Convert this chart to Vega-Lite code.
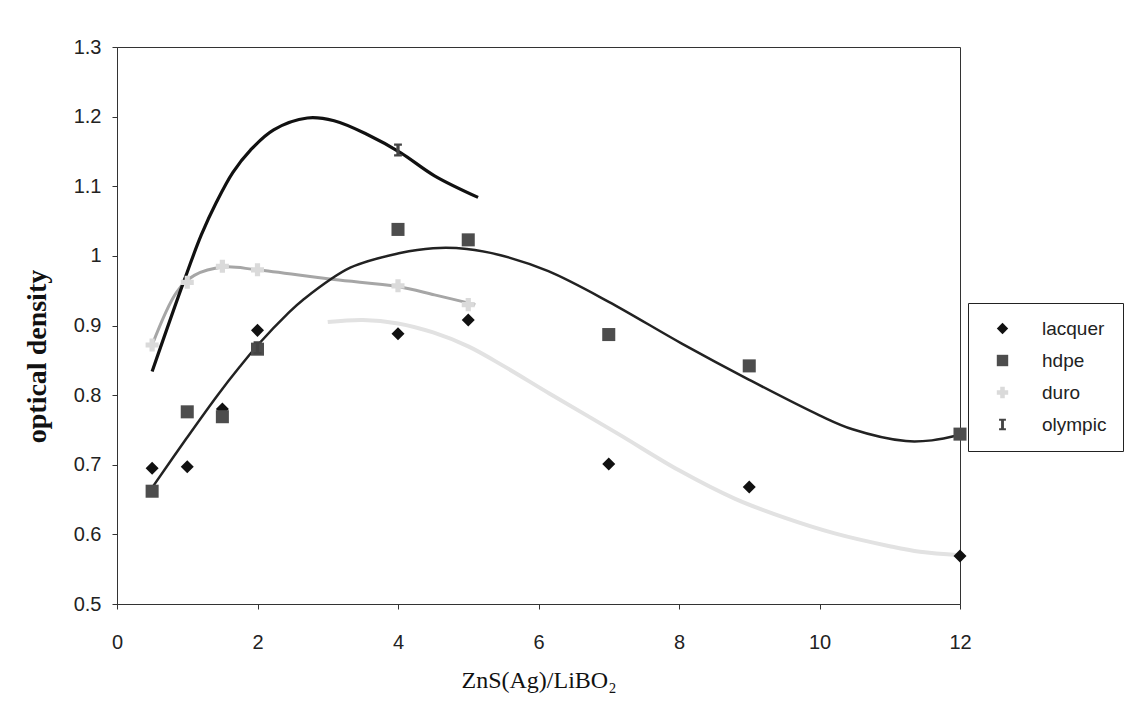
{
  "$schema": "https://vega.github.io/schema/vega-lite/v6.json",
  "autosize": {"type": "none"},
  "width": 843,
  "height": 557,
  "padding": {"left": 117, "top": 47, "right": 170, "bottom": 120},
  "background": "white",
  "config": {
    "view": {"stroke": "#333", "strokeWidth": 1},
    "axis": {
      "grid": false,
      "domainColor": "#333",
      "tickColor": "#333",
      "labelFont": "Liberation Sans",
      "labelFontSize": 20,
      "labelColor": "#222",
      "titleFont": "Liberation Serif",
      "titleColor": "#111"
    },
    "legend": {
      "labelFont": "Liberation Sans",
      "labelFontSize": 19,
      "labelColor": "#222"
    }
  },
  "datasets": {
    "pts": [
      {"series": "lacquer", "x": 0.5, "y": 0.695},
      {"series": "lacquer", "x": 1, "y": 0.697},
      {"series": "lacquer", "x": 1.5, "y": 0.78},
      {"series": "lacquer", "x": 2, "y": 0.893},
      {"series": "lacquer", "x": 4, "y": 0.888},
      {"series": "lacquer", "x": 5, "y": 0.908},
      {"series": "lacquer", "x": 7, "y": 0.701},
      {"series": "lacquer", "x": 9, "y": 0.668},
      {"series": "lacquer", "x": 12, "y": 0.569},
      {"series": "hdpe", "x": 0.5, "y": 0.662},
      {"series": "hdpe", "x": 1, "y": 0.776},
      {"series": "hdpe", "x": 1.5, "y": 0.769},
      {"series": "hdpe", "x": 2, "y": 0.866},
      {"series": "hdpe", "x": 4, "y": 1.038},
      {"series": "hdpe", "x": 5, "y": 1.023},
      {"series": "hdpe", "x": 7, "y": 0.887},
      {"series": "hdpe", "x": 9, "y": 0.842},
      {"series": "hdpe", "x": 12, "y": 0.744},
      {"series": "duro", "x": 0.5, "y": 0.872},
      {"series": "duro", "x": 1, "y": 0.962},
      {"series": "duro", "x": 1.5, "y": 0.985},
      {"series": "duro", "x": 2, "y": 0.98},
      {"series": "duro", "x": 4, "y": 0.957},
      {"series": "duro", "x": 5, "y": 0.93},
      {"series": "olympic", "x": 2, "y": 0.868},
      {"series": "olympic", "x": 4, "y": 1.152}
    ],
    "trend": [
      {"series": "olympic", "x": 0.5, "y": 0.834},
      {"series": "olympic", "x": 0.95, "y": 0.963},
      {"series": "olympic", "x": 1.2, "y": 1.03},
      {"series": "olympic", "x": 1.42, "y": 1.078},
      {"series": "olympic", "x": 1.65, "y": 1.12},
      {"series": "olympic", "x": 1.9, "y": 1.152},
      {"series": "olympic", "x": 2.23, "y": 1.181},
      {"series": "olympic", "x": 2.71, "y": 1.198},
      {"series": "olympic", "x": 3.09, "y": 1.194},
      {"series": "olympic", "x": 3.57, "y": 1.174},
      {"series": "olympic", "x": 4.04, "y": 1.148},
      {"series": "olympic", "x": 4.52, "y": 1.115},
      {"series": "olympic", "x": 5.14, "y": 1.084},
      {"series": "duro", "x": 0.5, "y": 0.872},
      {"series": "duro", "x": 0.85, "y": 0.948},
      {"series": "duro", "x": 1.1, "y": 0.972},
      {"series": "duro", "x": 1.52, "y": 0.984},
      {"series": "duro", "x": 1.99, "y": 0.98},
      {"series": "duro", "x": 3.09, "y": 0.966},
      {"series": "duro", "x": 3.99, "y": 0.956},
      {"series": "duro", "x": 4.52, "y": 0.944},
      {"series": "duro", "x": 5.1, "y": 0.93},
      {"series": "hdpe", "x": 0.52, "y": 0.67},
      {"series": "hdpe", "x": 0.99, "y": 0.738},
      {"series": "hdpe", "x": 1.44, "y": 0.801},
      {"series": "hdpe", "x": 1.75, "y": 0.841},
      {"series": "hdpe", "x": 2.04, "y": 0.876},
      {"series": "hdpe", "x": 2.42, "y": 0.916},
      {"series": "hdpe", "x": 2.65, "y": 0.937},
      {"series": "hdpe", "x": 3.32, "y": 0.983},
      {"series": "hdpe", "x": 4.03, "y": 1.004},
      {"series": "hdpe", "x": 4.5, "y": 1.011},
      {"series": "hdpe", "x": 4.98, "y": 1.01},
      {"series": "hdpe", "x": 5.46, "y": 1.001},
      {"series": "hdpe", "x": 6.14, "y": 0.978},
      {"series": "hdpe", "x": 7, "y": 0.934},
      {"series": "hdpe", "x": 8.04, "y": 0.874},
      {"series": "hdpe", "x": 9, "y": 0.822},
      {"series": "hdpe", "x": 10, "y": 0.771},
      {"series": "hdpe", "x": 10.47, "y": 0.751},
      {"series": "hdpe", "x": 11.23, "y": 0.734},
      {"series": "hdpe", "x": 11.6, "y": 0.735},
      {"series": "hdpe", "x": 12, "y": 0.743},
      {"series": "lacquer", "x": 3, "y": 0.905},
      {"series": "lacquer", "x": 3.5, "y": 0.908},
      {"series": "lacquer", "x": 4, "y": 0.903},
      {"series": "lacquer", "x": 4.5, "y": 0.89},
      {"series": "lacquer", "x": 5, "y": 0.87},
      {"series": "lacquer", "x": 5.5, "y": 0.842},
      {"series": "lacquer", "x": 6.16, "y": 0.802},
      {"series": "lacquer", "x": 7.14, "y": 0.744},
      {"series": "lacquer", "x": 8, "y": 0.692},
      {"series": "lacquer", "x": 8.8, "y": 0.651},
      {"series": "lacquer", "x": 9.5, "y": 0.624},
      {"series": "lacquer", "x": 10.23, "y": 0.601},
      {"series": "lacquer", "x": 11, "y": 0.583},
      {"series": "lacquer", "x": 11.43, "y": 0.575},
      {"series": "lacquer", "x": 12, "y": 0.57}
    ]
  },
  "encoding": {
    "x": {
      "field": "x", "type": "quantitative",
      "scale": {"domain": [0, 12], "nice": false, "zero": false},
      "axis": {
        "title": "ZnS(Ag)/LiBO₂",
        "titleFontSize": 24,
        "titleFontWeight": "normal",
        "titlePadding": 16,
        "values": [0, 2, 4, 6, 8, 10, 12],
        "tickSize": 5,
        "labelPadding": 23,
        "labelFlush": false
      }
    },
    "y": {
      "field": "y", "type": "quantitative",
      "scale": {"domain": [0.5, 1.3], "nice": false, "zero": false},
      "axis": {
        "title": "optical density",
        "titleFontSize": 28,
        "titleFontWeight": "bold",
        "titlePadding": 22,
        "titleY": 309,
        "values": [0.5, 0.6, 0.7, 0.8, 0.9, 1, 1.1, 1.2, 1.3],
        "format": "~g",
        "tickSize": 5,
        "labelPadding": 11,
        "labelFlush": false
      }
    }
  },
  "layer": [
    {
      "data": {"name": "trend"},
      "transform": [{"filter": "datum.series === 'lacquer'"}],
      "mark": {"type": "line", "interpolate": "catmull-rom", "color": "#e2e2e2", "strokeWidth": 4},
      "encoding": {}
    },
    {
      "data": {"name": "trend"},
      "transform": [{"filter": "datum.series === 'duro'"}],
      "mark": {"type": "line", "interpolate": "catmull-rom", "color": "#a6a6a6", "strokeWidth": 3},
      "encoding": {}
    },
    {
      "data": {"name": "trend"},
      "transform": [{"filter": "datum.series === 'hdpe'"}],
      "mark": {"type": "line", "interpolate": "catmull-rom", "color": "#222222", "strokeWidth": 2.5},
      "encoding": {}
    },
    {
      "data": {"name": "trend"},
      "transform": [{"filter": "datum.series === 'olympic'"}],
      "mark": {"type": "line", "interpolate": "catmull-rom", "color": "#111111", "strokeWidth": 3.2},
      "encoding": {}
    },
    {
      "data": {"name": "pts"},
      "mark": {"type": "point", "filled": true, "size": 170, "opacity": 1},
      "encoding": {
        "color": {
          "field": "series", "type": "nominal",
          "scale": {"domain": ["lacquer", "hdpe", "duro", "olympic"], "range": ["#111111", "#4d4d4d", "#dadada", "#444444"]},
          "legend": {
            "title": null,
            "orient": "none",
            "legendX": 851,
            "legendY": 256,
            "strokeColor": "#222",
            "padding": 16,
            "rowPadding": 12,
            "symbolSize": 130,
            "symbolOffset": 9,
            "labelOffset": 30
          }
        },
        "shape": {
          "field": "series", "type": "nominal",
          "scale": {"domain": ["lacquer", "hdpe", "duro", "olympic"], "range": ["diamond", "square", "cross", "M-0.6,-1H0.6V-0.65H0.25V0.65H0.6V1H-0.6V0.65H-0.25V-0.65H-0.6Z"]},
          "legend": null
        }
      }
    }
  ]
}
